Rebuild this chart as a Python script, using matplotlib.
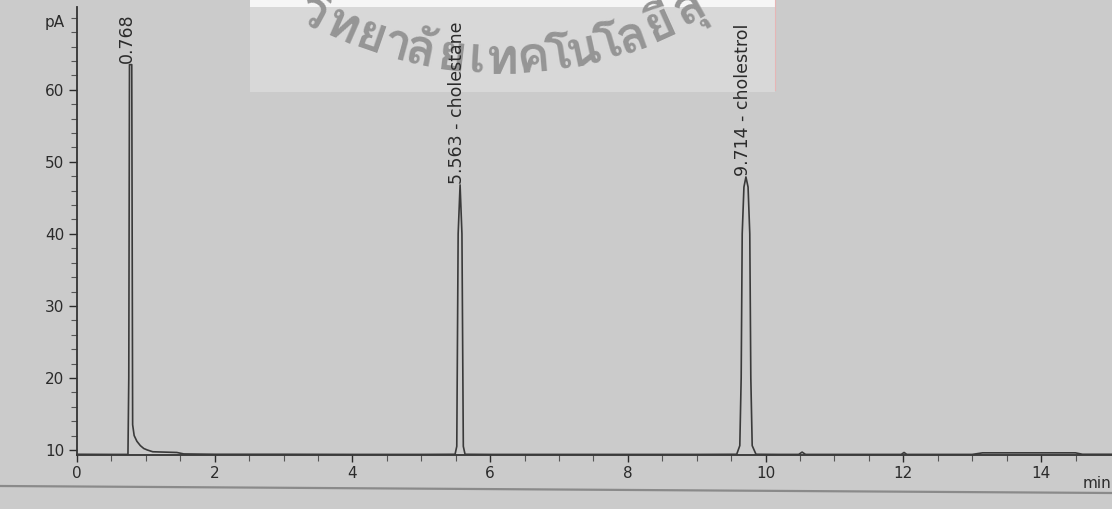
import math
import matplotlib
matplotlib.use("Agg")
import matplotlib.pyplot as plt
from matplotlib import font_manager
from matplotlib.ft2font import FT2Font
from matplotlib.patches import Rectangle
from matplotlib.lines import Line2D

# chromatogram trace (time in min, signal in pA)
time_min = [0.00, 0.50, 0.74, 0.752, 0.762, 0.795, 0.808, 0.83, 0.87, 0.92,
             0.97, 1.02, 1.10, 1.45, 1.55, 2.00, 3.00, 4.00, 5.00, 5.49,
             5.515, 5.535, 5.563, 5.59, 5.61, 5.635, 6.00, 7.00, 8.00, 9.00,
             9.58, 9.625, 9.645, 9.66, 9.685, 9.714, 9.745, 9.77, 9.785, 9.805,
             9.86, 10.20, 10.48, 10.53, 10.58, 11.00, 11.97, 12.01, 12.05, 13.00,
             13.15, 14.50, 14.60, 15.05]
signal_pa = [9.40, 9.38, 9.38, 20.0, 63.5, 63.5, 13.5, 12.0, 11.2, 10.6,
             10.2, 10.0, 9.75, 9.65, 9.45, 9.40, 9.40, 9.38, 9.38, 9.40,
             10.5, 40.0, 46.8, 40.0, 10.5, 9.40, 9.38, 9.38, 9.38, 9.38,
             9.40, 10.6, 20.0, 40.0, 46.5, 47.9, 46.5, 40.0, 20.0, 10.6,
             9.40, 9.38, 9.38, 9.70, 9.38, 9.38, 9.38, 9.65, 9.38, 9.38,
             9.60, 9.60, 9.40, 9.40]

# integrator annotations
peak_times = [0.768, 5.563, 9.714]
peak_tops = [63.5, 46.8, 47.9]
peak_labels = ["0.768", "5.563 - cholestane", "9.714 - cholestrol"]

x_ticks = [0, 2, 4, 6, 8, 10, 12, 14]
y_ticks = [10, 20, 30, 40, 50, 60]

# watermark, one glyph cluster per entry (the end runs off the top of the scan)
watermark = ["วิ", "ท", "ย", "า", "ลั", "ย", "เ", "ท", "ค", "โ", "น",
             "โ", "ล", "ยี", "สุ"]
cluster_w = [34, 31, 31, 21, 31, 31, 20, 31, 31, 20, 31, 20, 31, 32, 34]


def find_thai_font():
    for f in font_manager.fontManager.ttflist:
        try:
            if 0x0E17 in FT2Font(f.fname).get_charmap():
                return f.name
        except Exception:
            pass
    return None


bg = "#cbcbcb"
ink = "#2b2b2b"
W, H = 1112, 509

fig = plt.figure(figsize=(W / 100, H / 100), dpi=100, facecolor=bg)
ax = fig.add_axes([77 / W, 1 - 455 / H, 1 - 77 / W, (455 - 7) / H])
ax.set_facecolor("none")
ax.set_zorder(5)

# watermark box behind everything
fig.patches.append(Rectangle((250 / W, 1 - 7 / H), 525 / W, 7 / H,
                             transform=fig.transFigure, facecolor="#f6f6f6",
                             edgecolor="none", zorder=0))
fig.patches.append(Rectangle((250 / W, 1 - 92 / H), 525 / W, 85 / H,
                             transform=fig.transFigure, facecolor="#d8d8d8",
                             edgecolor="none", zorder=0))
fig.add_artist(Line2D([775 / W, 775 / W], [1 - 90 / H, 1], transform=fig.transFigure,
                      color="#e6b5b5", lw=0.8, zorder=1))

thai = find_thai_font()
if thai:
    # glyphs laid along a smile-shaped arc (pixel coords, y down)
    cx, cy, R = 500, -332, 392
    s = -212.0
    for cl, w in zip(watermark, cluster_w):
        phi = (s + w / 2) / R
        px = cx + R * math.sin(phi)
        py = cy + R * math.cos(phi)
        s += w
        fig.text(px / W, 1 - py / H, cl, family=[thai, "DejaVu Sans"],
                 fontsize=36, fontweight="bold", color="#959595",
                 rotation=math.degrees(phi), rotation_mode="anchor",
                 ha="center", va="center", zorder=1)

ax.plot(time_min, signal_pa, color="#3a3a3a", lw=1.2, zorder=3)

for t, h, lab in zip(peak_times, peak_tops, peak_labels):
    ax.annotate(lab, xy=(t, h), xytext=(-2, 1), textcoords="offset points",
                rotation=90, ha="center", va="bottom", fontsize=12.5,
                color=ink, zorder=4)

ax.set_xlim(0, 15.03)
ax.set_ylim(9.3, 71.5)
ax.set_xticks(x_ticks)
ax.set_xticks([v / 2 for v in range(0, 30)], minor=True)
ax.set_yticks(y_ticks)
ax.set_yticks(list(range(10, 72, 2)), minor=True)
ax.tick_params(axis="both", which="major", labelsize=11, colors=ink,
               length=6, width=1.0, pad=3)
ax.tick_params(axis="both", which="minor", length=4, width=0.8, colors="#555555")
ax.tick_params(axis="x", which="major", length=5)
for sp in ["top", "right"]:
    ax.spines[sp].set_visible(False)
for sp in ["left", "bottom"]:
    ax.spines[sp].set_color("#333333")
    ax.spines[sp].set_linewidth(1.3)

ax.text(-0.012, 69.3, "pA", transform=ax.get_yaxis_transform(),
        ha="right", va="center", fontsize=11, color=ink)
fig.text(1097 / W, 1 - 484 / H, "min", ha="center", va="center",
         fontsize=11, color=ink)

# scan border line under the axis (slightly tilted in the scan)
fig.add_artist(Line2D([0, 1], [1 - 486 / H, 1 - 493 / H],
                      transform=fig.transFigure, color="#8a8a8a", lw=1.6))

fig.savefig("out.png", dpi=100, facecolor=bg)
